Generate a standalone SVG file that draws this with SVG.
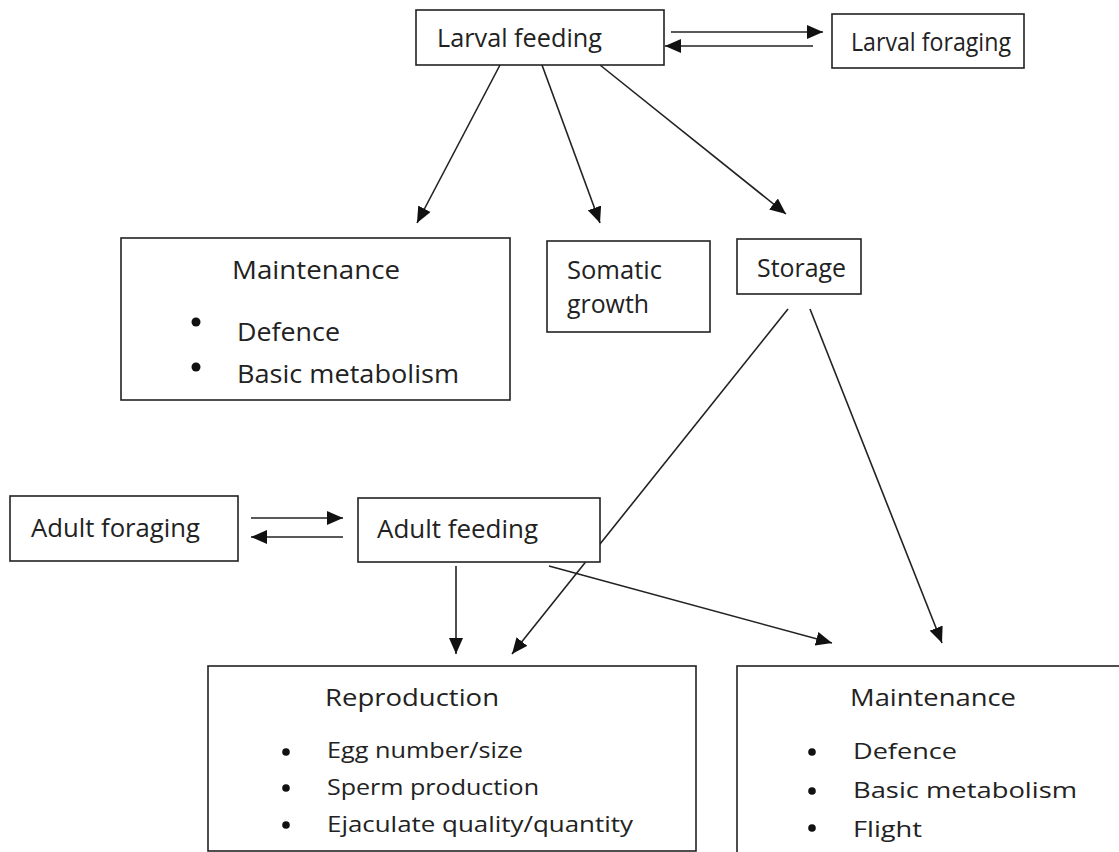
<svg xmlns="http://www.w3.org/2000/svg" width="1119" height="852" viewBox="0 0 1119 852">
<style>
.box{fill:#fff;stroke:#222;stroke-width:1.6}
.t{font-family:"Open Sans","Liberation Sans",sans-serif;fill:#222}
.big{font-size:25px}
.mid{font-size:23px}
.sm{font-size:22px}
.con{stroke:#222;stroke-width:1.6;fill:none;marker-end:url(#ah)}
.dot{fill:#111}
</style>
<defs>
<marker id="ah" markerUnits="userSpaceOnUse" markerWidth="16" markerHeight="14" refX="16" refY="7" orient="auto">
<path d="M0,0 L16,7 L0,14 z" fill="#111"/>
</marker>
</defs>
<rect width="1119" height="852" fill="#fff"/>
<g id="connectors">
<line class="con" x1="671" y1="32" x2="823" y2="32"/>
<line class="con" x1="813" y1="46" x2="665" y2="46"/>
<line class="con" x1="500" y1="65" x2="417" y2="223"/>
<line class="con" x1="542" y1="65" x2="600" y2="223"/>
<line class="con" x1="600" y1="65" x2="786" y2="214"/>
<line class="con" x1="788" y1="309" x2="512" y2="654"/>
<line class="con" x1="810" y1="309" x2="942" y2="643"/>
<line class="con" x1="251" y1="518" x2="343" y2="518"/>
<line class="con" x1="343" y1="537" x2="251" y2="537"/>
<line class="con" x1="456" y1="566" x2="456" y2="654"/>
<line class="con" x1="549" y1="566" x2="832" y2="643"/>
</g>
<g id="larval-feeding">
<rect class="box" x="416" y="10" width="248" height="55"/>
<text class="t big" x="437" y="47" textLength="165" lengthAdjust="spacingAndGlyphs">Larval feeding</text>
</g>
<g id="larval-foraging">
<rect class="box" x="832" y="14" width="192" height="54"/>
<text class="t big" x="851" y="51" textLength="160" lengthAdjust="spacingAndGlyphs">Larval foraging</text>
</g>
<g id="maintenance-larval">
<rect class="box" x="121" y="238" width="389" height="162"/>
<text class="t big" x="232" y="279" textLength="168" lengthAdjust="spacingAndGlyphs">Maintenance</text>
<circle class="dot" cx="196" cy="322" r="4.5"/>
<text class="t big" x="237" y="341" textLength="103" lengthAdjust="spacingAndGlyphs">Defence</text>
<circle class="dot" cx="196" cy="367" r="4.5"/>
<text class="t big" x="237" y="383" textLength="222" lengthAdjust="spacingAndGlyphs">Basic metabolism</text>
</g>
<g id="somatic-growth">
<rect class="box" x="547" y="241" width="163" height="91"/>
<text class="t big" x="567" y="279" textLength="95" lengthAdjust="spacingAndGlyphs">Somatic</text>
<text class="t big" x="567" y="313" textLength="82" lengthAdjust="spacingAndGlyphs">growth</text>
</g>
<g id="storage">
<rect class="box" x="737" y="239" width="124" height="55"/>
<text class="t big" x="757" y="277" textLength="89" lengthAdjust="spacingAndGlyphs">Storage</text>
</g>
<g id="adult-foraging">
<rect class="box" x="10" y="496" width="228" height="65"/>
<text class="t big" x="31" y="537" textLength="169" lengthAdjust="spacingAndGlyphs">Adult foraging</text>
</g>
<g id="adult-feeding">
<rect class="box" x="358" y="498" width="242" height="64"/>
<text class="t big" x="377" y="538" textLength="161" lengthAdjust="spacingAndGlyphs">Adult feeding</text>
</g>
<g id="reproduction">
<rect class="box" x="208" y="666" width="488" height="185"/>
<text class="t mid" x="325" y="706" textLength="174" lengthAdjust="spacingAndGlyphs">Reproduction</text>
<circle class="dot" cx="286" cy="752" r="3.8"/>
<text class="t sm" x="327" y="758" textLength="196" lengthAdjust="spacingAndGlyphs">Egg number/size</text>
<circle class="dot" cx="286" cy="788" r="3.8"/>
<text class="t sm" x="327" y="795" textLength="212" lengthAdjust="spacingAndGlyphs">Sperm production</text>
<circle class="dot" cx="286" cy="825" r="3.8"/>
<text class="t sm" x="327" y="832" textLength="306" lengthAdjust="spacingAndGlyphs">Ejaculate quality/quantity</text>
</g>
<g id="maintenance-adult">
<rect class="box" x="737" y="666" width="400" height="200"/>
<text class="t mid" x="850" y="706" textLength="166" lengthAdjust="spacingAndGlyphs">Maintenance</text>
<circle class="dot" cx="812" cy="752" r="3.8"/>
<text class="t sm" x="853" y="759" textLength="104" lengthAdjust="spacingAndGlyphs">Defence</text>
<circle class="dot" cx="812" cy="791" r="3.8"/>
<text class="t sm" x="853" y="798" textLength="224" lengthAdjust="spacingAndGlyphs">Basic metabolism</text>
<circle class="dot" cx="812" cy="828" r="3.8"/>
<text class="t sm" x="853" y="837" textLength="69" lengthAdjust="spacingAndGlyphs">Flight</text>
</g>
</svg>
